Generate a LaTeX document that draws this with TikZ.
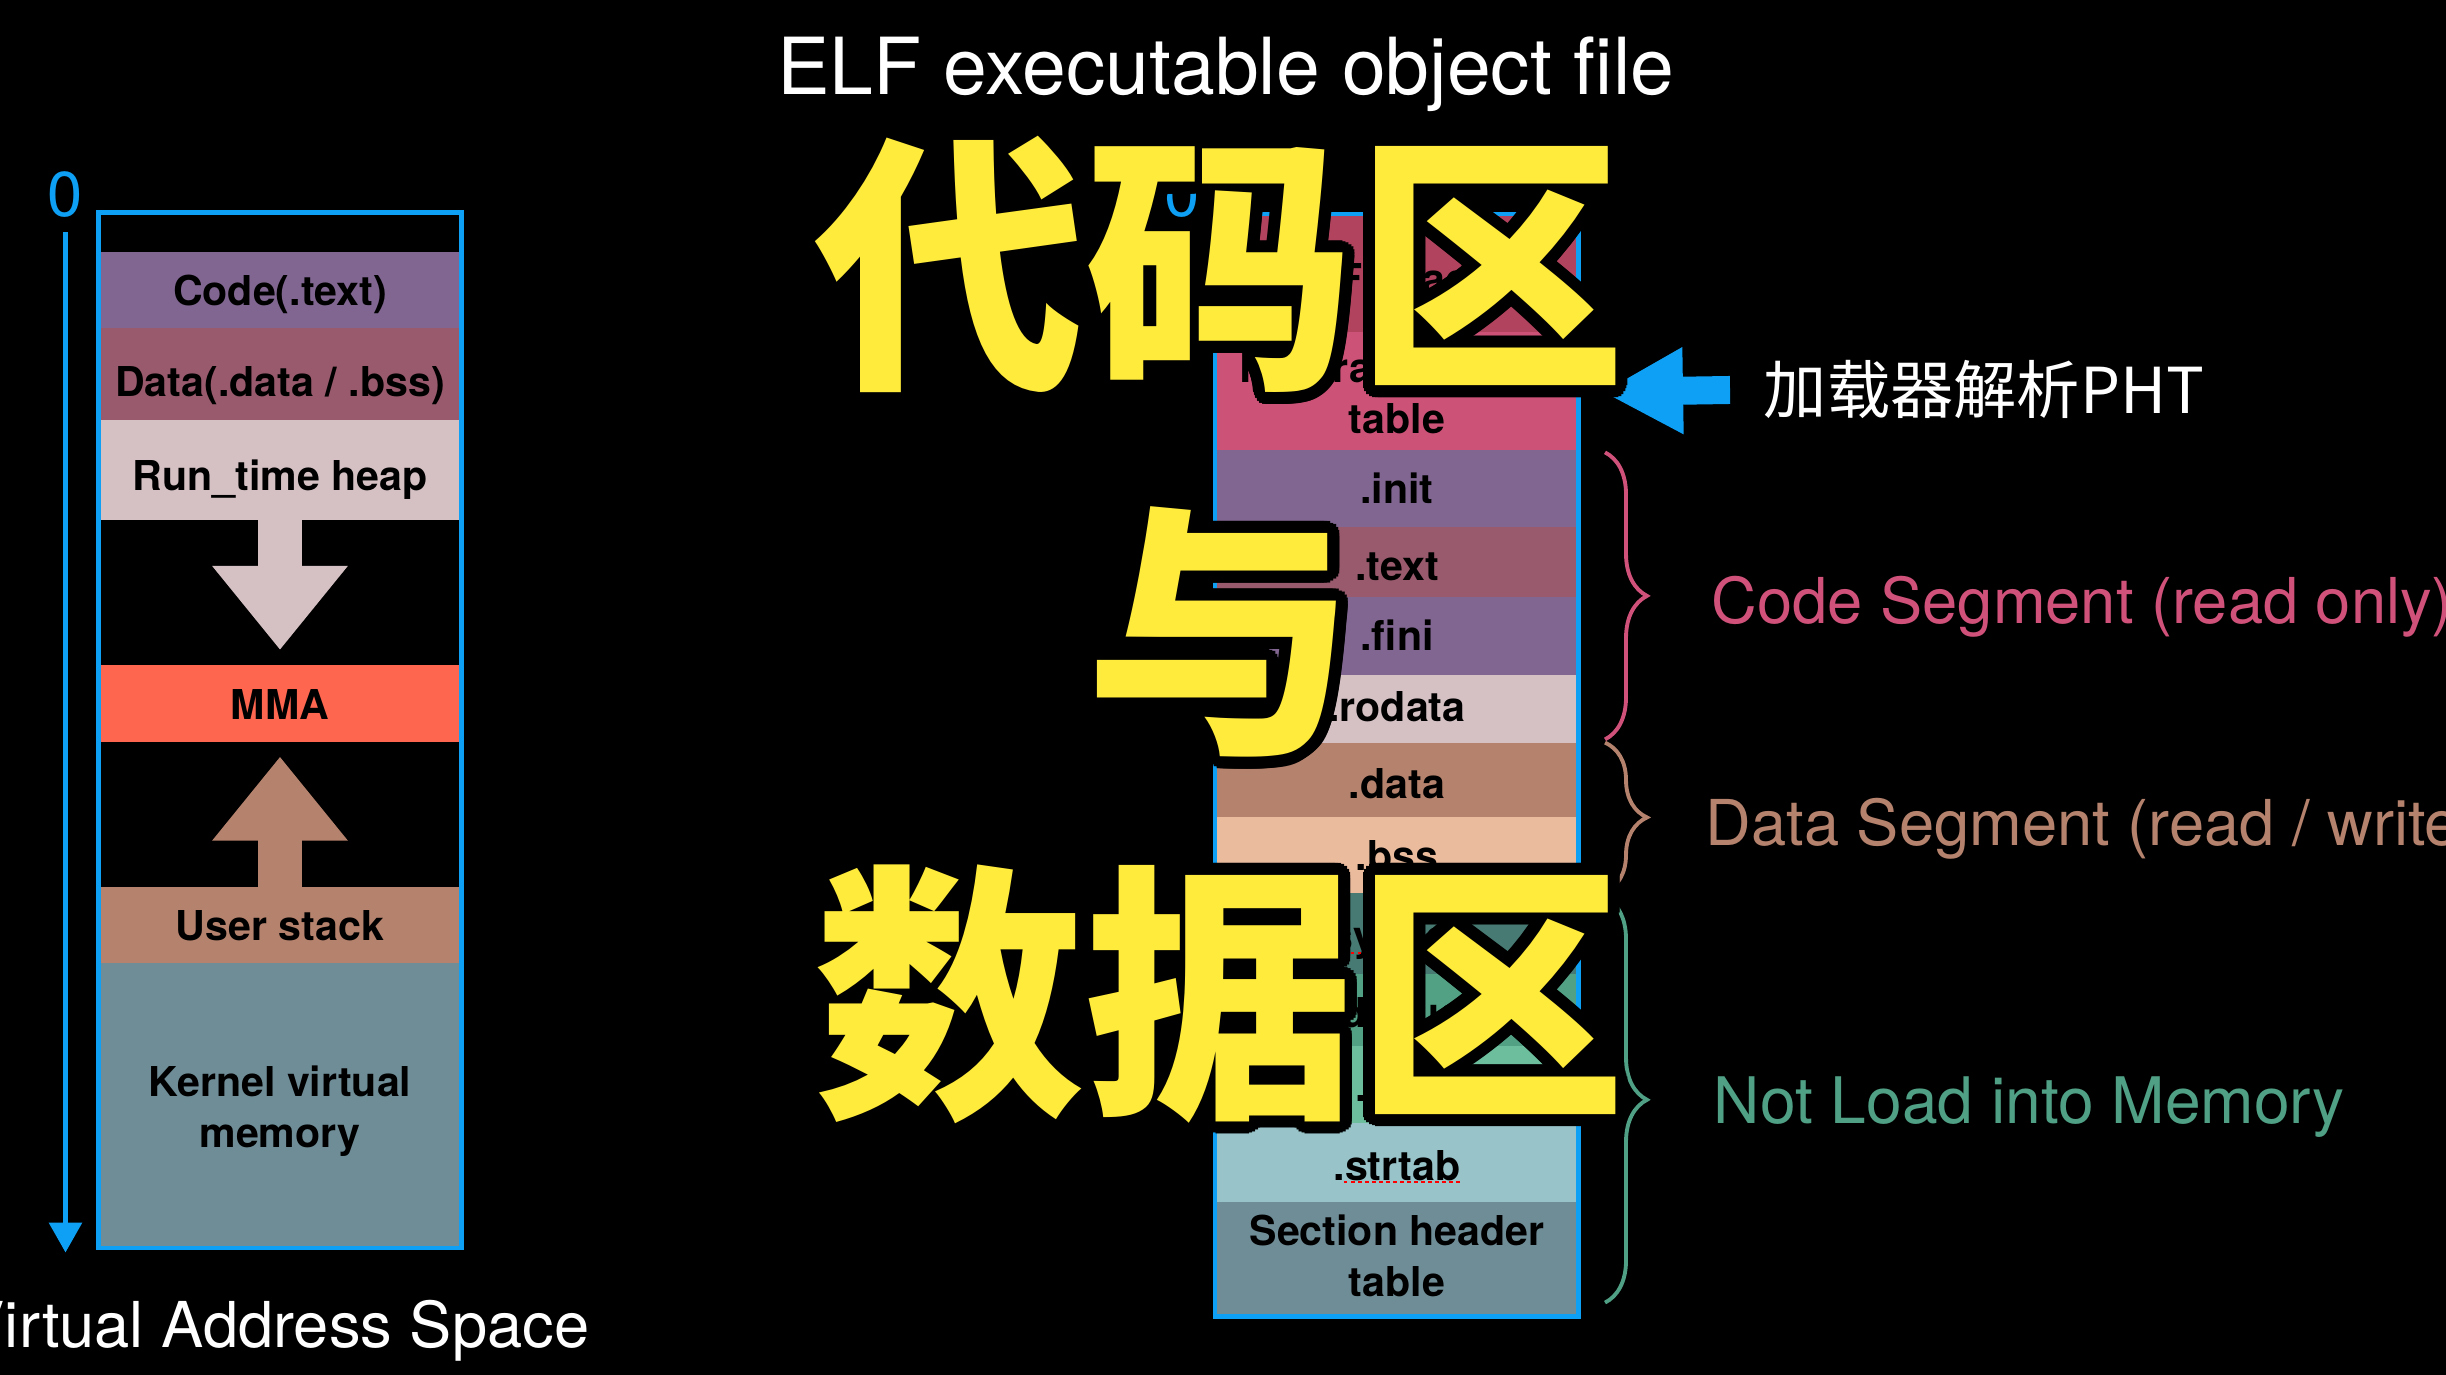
\documentclass[tikz,border=0pt]{standalone}
\usepackage{fontspec}
\setmainfont{TeX Gyre Heros}
\newfontfamily\cjk{Noto Sans CJK SC}
\usetikzlibrary{arrows.meta, decorations.pathreplacing}

\begin{document}
\begin{tikzpicture}[
    pairLabel/.style={font=\bfseries\fontsize{11.7}{14.4}\selectfont, text=black, align=center, inner sep=0pt},
    capLabel/.style={pairLabel, text height=0.296cm, text depth=0pt},
    sideLabel/.style={font=\fontsize{18}{22}\selectfont, anchor=base west, inner sep=0pt},
    segBrace/.style={decorate, decoration={brace, amplitude=0.42cm}, line width=1.1pt},
    growArrow/.style={line width=0.438cm, -{Triangle[width=1.30cm, length=0.84cm]}},
    spellMark/.style={red, line width=0.6pt, dash pattern=on 1pt off 1pt},
    bigWord/.style={font=\cjk\bfseries\fontsize{77}{80}\selectfont, inner sep=0pt}
]
    % Define colours
    \definecolor{axisBlue}{HTML}{0EA0F5}
    \definecolor{codeColour}{HTML}{806690}
    \definecolor{dataColour}{HTML}{985A6C}
    \definecolor{heapColour}{HTML}{D5C1C4}
    \definecolor{mmaColour}{HTML}{FF6650}
    \definecolor{stackColour}{HTML}{B5826D}
    \definecolor{kernelColour}{HTML}{6F8D97}
    \definecolor{elfHeadColour}{HTML}{B2435E}
    \definecolor{phtColour}{HTML}{CC5278}
    \definecolor{bssColour}{HTML}{EBBB9D}
    \definecolor{symtabColour}{HTML}{477A72}
    \definecolor{debugColour}{HTML}{52A184}
    \definecolor{lineColour}{HTML}{6DBE9D}
    \definecolor{strtabColour}{HTML}{97C3C9}
    \definecolor{codeSegColour}{HTML}{D0527A}
    \definecolor{notLoadColour}{HTML}{4FA085}
    \definecolor{bigYellow}{HTML}{FFEB3B}

    % Page and background
    \useasboundingbox (0,0) rectangle (24.46,13.75);
    \fill[black] (0,0) rectangle (24.46,13.75);

    % Define box edges
    \def\boxL{0.985}
    \def\boxR{4.615}
    \def\boxMid{2.80}
    \def\elfL{12.15}
    \def\elfR{15.785}
    \def\elfMid{13.97}

    % Draw virtual address space
    \foreach \name/\yTop/\yBot/\col/\yText/\sty/\txt in {
        code/11.234/10.466/codeColour/10.845/capLabel/Code(.text),
        data/10.466/9.550/dataColour/9.934/capLabel/{Data(.data / .bss)},
        heap/9.550/8.550/heapColour/8.992/capLabel/Run\_time heap,
        mma/7.100/6.332/mmaColour/6.705/capLabel/MMA,
        stack/4.883/4.117/stackColour/4.491/capLabel/User stack,
        kernel/4.117/1.270/kernelColour/2.639/pairLabel/{Kernel virtual\\memory}}
    {
        \fill[\col] (\boxL,\yTop) rectangle (\boxR,\yBot);
        \node[\sty] (\name) at (\boxMid,\yText) {\txt};
    }

    % Heap grows down, stack grows up
    \coordinate (heapFoot) at (\boxMid,8.550);
    \coordinate (heapTip) at (\boxMid,7.250);
    \coordinate (stackFoot) at (\boxMid,4.883);
    \coordinate (stackTip) at (\boxMid,6.184);
    \draw[growArrow, heapColour] (heapFoot) -- (heapTip);
    \draw[growArrow, stackColour] (stackFoot) -- (stackTip);

    \draw[axisBlue, line width=1.4pt] (\boxL,11.625) rectangle (\boxR,1.270);

    % Address axis
    \node[font=\fontsize{18}{22}\selectfont, text=axisBlue] (zeroLeft) at (0.655,11.80) {0};
    \coordinate (axisTop) at (0.655,11.426);
    \coordinate (axisEnd) at (0.655,1.224);
    \draw[axisBlue, line width=1.7pt, -{Triangle[width=0.32cm, length=0.3cm]}] (axisTop) -- (axisEnd);
    \node[font=\fontsize{18}{22}\selectfont, text=white, anchor=base east, inner sep=0pt] (vasLabel) at (5.90,0.27) {Virtual Address Space};

    % Draw ELF file
    \node[font=\fontsize{22.4}{26}\selectfont, text=white] (title) at (12.26,13.01) {ELF executable object file};
    \node[font=\fontsize{18}{22}\selectfont, text=axisBlue] (zeroElf) at (11.825,11.80) {0};

    \foreach \name/\yTop/\yBot/\col/\yText/\sty/\txt in {
        elfHead/11.610/10.433/elfHeadColour/10.967/capLabel/ELF header,
        progHead/10.433/9.249/phtColour/9.820/pairLabel/{Program header\\table},
        secInit/9.249/8.483/codeColour/8.858/capLabel/.init,
        secText/8.483/7.783/dataColour/8.092/capLabel/.text,
        secFini/7.783/7.000/codeColour/7.391/capLabel/.fini,
        secRodata/7.000/6.315/heapColour/6.683/capLabel/.rodata,
        secData/6.315/5.580/stackColour/5.909/capLabel/.data,
        secBss/5.580/4.822/bssColour/5.195/capLabel/.bss,
        secSymtab/4.822/4.014/symtabColour/4.390/capLabel/.symtab,
        secDebug/4.014/3.289/debugColour/3.626/capLabel/.debug,
        secLine/3.289/2.521/lineColour/2.886/capLabel/.line,
        secStrtab/2.521/1.733/strtabColour/2.095/capLabel/.strtab,
        sectHead/1.733/0.585/kernelColour/1.190/pairLabel/{Section header\\table}}
    {
        \fill[\col] (\elfL,\yTop) rectangle (\elfR,\yBot);
        \node[\sty] (\name) at (\elfMid,\yText) {\txt};
    }
    \draw[axisBlue, line width=1.4pt] (\elfL,11.610) rectangle (\elfR,0.585);

    % Spell check marks
    \draw[spellMark] ([shift={(0.11,-0.02)}]secSymtab.base west) -- ([yshift=-0.02cm]secSymtab.base east);
    \draw[spellMark] ([shift={(0.11,-0.02)}]secStrtab.base west) -- ([yshift=-0.02cm]secStrtab.base east);

    % Segments
    \coordinate (codeTop) at (16.05,9.226);
    \coordinate (codeBot) at (16.05,6.356);
    \coordinate (dataTop) at (16.05,6.324);
    \coordinate (dataBot) at (16.05,4.827);
    \coordinate (restTop) at (16.05,4.780);
    \coordinate (restBot) at (16.05,0.724);
    \draw[segBrace, codeSegColour] (codeTop) -- (codeBot);
    \draw[segBrace, stackColour] (dataTop) -- (dataBot);
    \draw[segBrace, notLoadColour] (restTop) -- (restBot);

    \node[sideLabel, text=codeSegColour] (codeSeg) at (17.11,7.51) {Code Segment (read only)};
    \node[sideLabel, text=stackColour] (dataSeg) at (17.05,5.295) {Data Segment (read / write)};
    \node[sideLabel, font=\fontsize{18.25}{22}\selectfont, text=notLoadColour] (notLoad) at (17.13,2.515) {Not Load into Memory};

    % Loader reads the program header table
    \node[sideLabel, anchor=west, font=\cjk\fontsize{18}{22}\selectfont, text=white] (loader) at (17.63,9.85) {加载器解析PHT};
    \coordinate (phtTip) at (16.02,9.83);
    \draw[axisBlue, line width=0.28cm, -{Triangle[width=0.81cm, length=0.81cm]}] ([xshift=-0.33cm]loader.west) -- (phtTip);

    % Big yellow words with black rim
    \coordinate (codeArea) at (12.20,11.10);
    \coordinate (andWord) at (12.21,7.43);
    \coordinate (dataArea) at (12.20,3.81);
    \foreach \word/\pos in {代码区/codeArea, 与/andWord, 数据区/dataArea}
    {
        \foreach \ang in {0,15,...,345}
            \node[bigWord, text=black] (\pos Rim\ang) at ([shift={(\ang:0.12)}]\pos) {\word};
        \node[bigWord, text=bigYellow] (\pos Text) at (\pos) {\word};
    }

\end{tikzpicture}
\end{document}
